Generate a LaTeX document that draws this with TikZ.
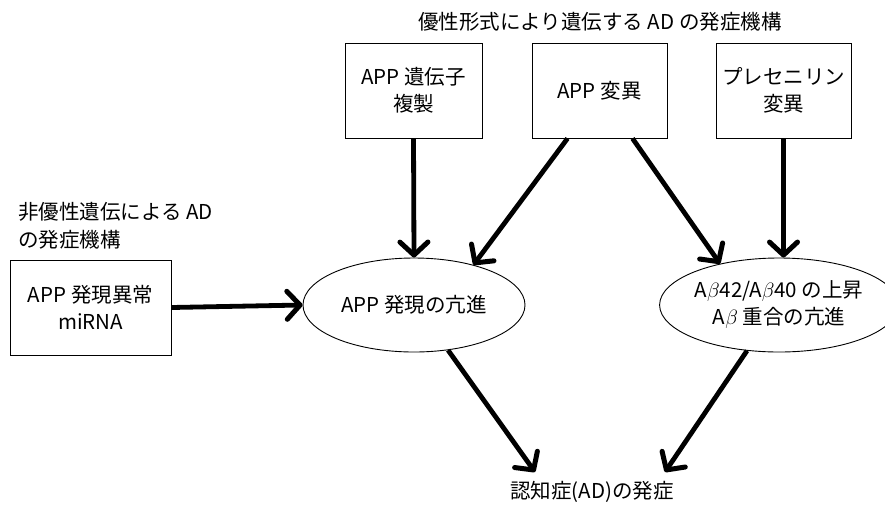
\documentclass[tikz,border=0pt]{standalone}
\usepackage{fontspec}
\setmainfont{Noto Sans CJK JP}
\usetikzlibrary{shapes.geometric,arrows.meta}
\begin{document}
\begin{tikzpicture}[x=1pt,y=-1pt,
  every node/.style={font=\fontsize{20.5}{27}\selectfont, align=center, inner sep=0pt},
  boxnode/.style={draw, line width=0.9pt, minimum height=95pt},
  ellnode/.style={draw, ellipse, line width=0.9pt, minimum height=94pt},
  lbl/.style={},
  arr/.style={line width=4.8pt, -{Straight Barb[length=13pt,width=28pt,line width=5pt,round]}}
]
\useasboundingbox (0,0) rectangle (885,504);
\node[lbl] (title) at (600,22) {優性形式により遺伝する AD の発症機構};
\node[lbl, anchor=west] (left1) at (18,212) {非優性遺伝による AD};
\node[lbl, anchor=west] (left2) at (18,240) {の発症機構};

\node[boxnode, minimum width=137pt] (b1) at (413.5,90.5) {APP 遺伝子\\複製};
\node[boxnode, minimum width=135pt] (b2) at (599.5,90.5) {APP 変異};
\node[boxnode, minimum width=135pt] (b3) at (783.5,90.5) {プレセニリン\\変異};
\node[boxnode, minimum width=161pt] (b4) at (90.5,307.5) {APP 発現異常\\miRNA};

\node[ellnode, minimum width=222pt] (e1) at (414,305) {APP 発現の亢進};
\node[ellnode, minimum width=214pt] (e2) at (779,305) {A$\beta$42/A$\beta$40 の上昇\\A$\beta$ 重合の亢進};

\node[lbl] (t) at (592,492) {認知症(AD)の発症};
\coordinate (t1) at (535,472);
\coordinate (t2) at (665,472);

\draw[arr] (b1.south) -- (e1.north);
\draw[arr] ([xshift=-32pt]b2.south) -- (e1.34);
\draw[arr] ([xshift=33pt]b2.south) -- (e2.145);
\draw[arr] (b3.south) -- (b3.south |- e2.north);
\draw[arr] (b4.east) -- (e1.west);
\draw[arr] (e1.-53) -- (t1);
\draw[arr] (e2.235) -- (t2);
\end{tikzpicture}
\end{document}
